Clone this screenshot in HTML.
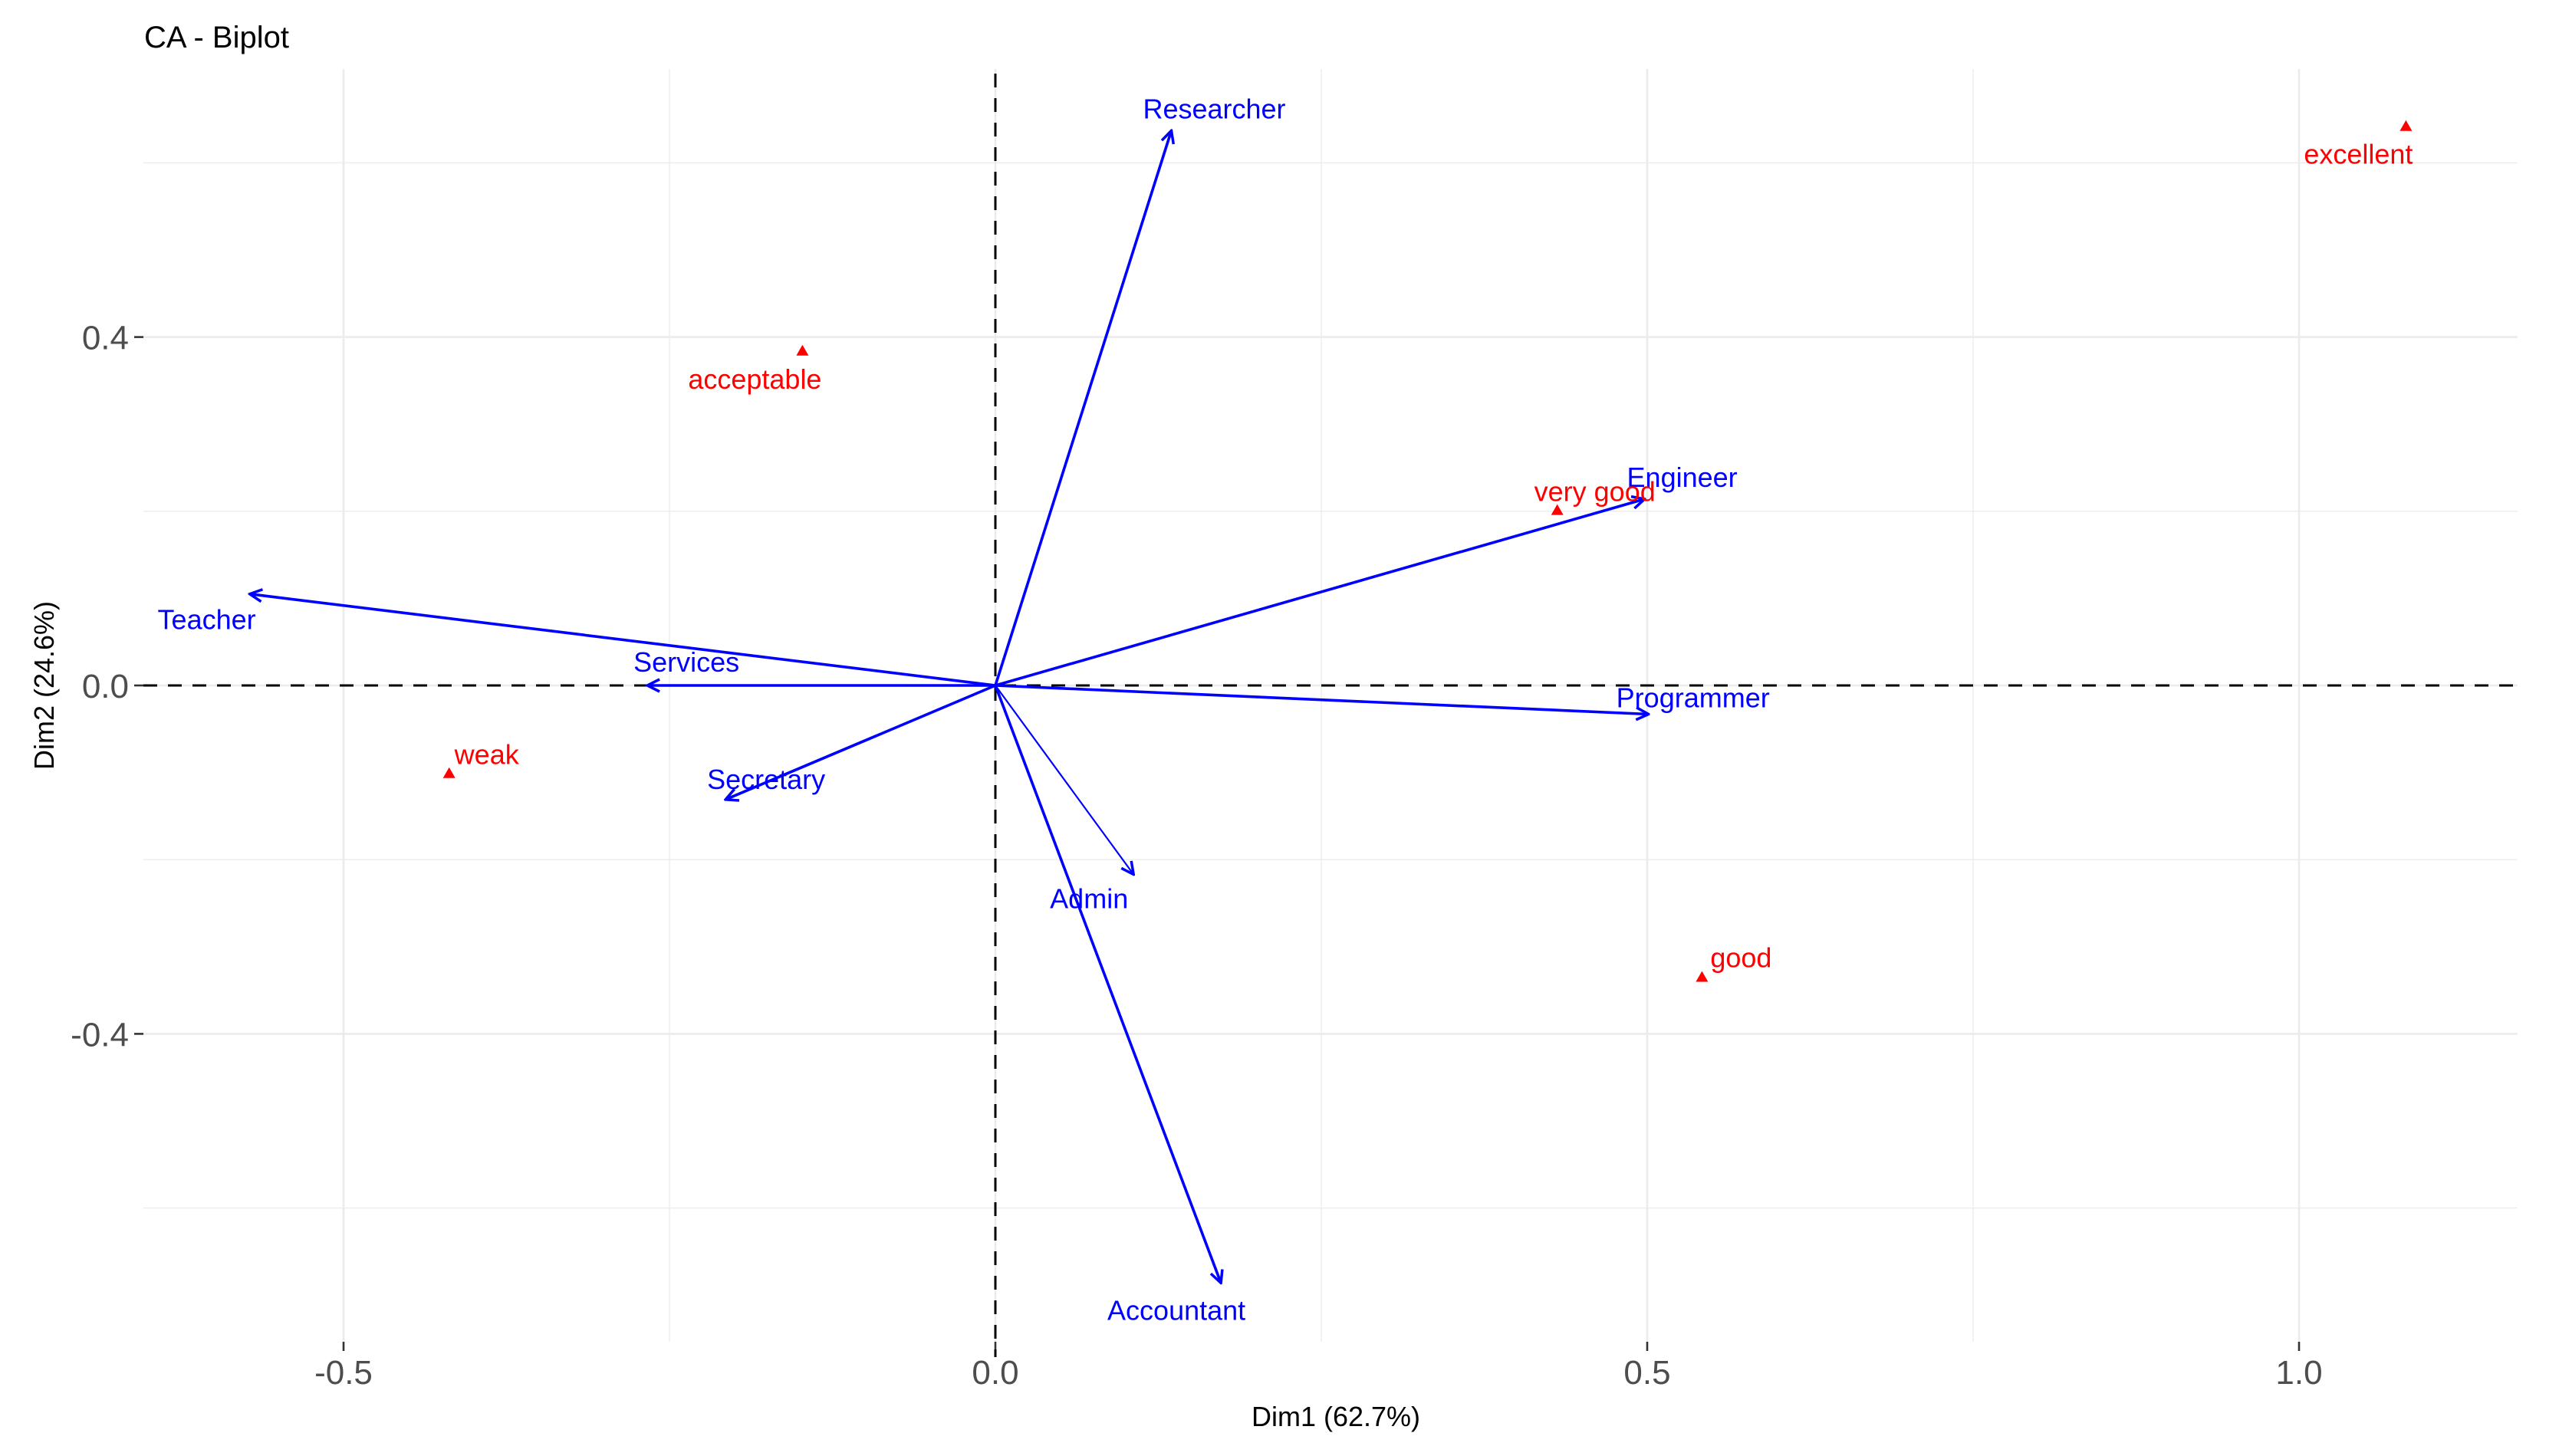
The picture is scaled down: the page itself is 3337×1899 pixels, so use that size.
<!DOCTYPE html>
<html><head><meta charset="utf-8"><style>
html,body{margin:0;padding:0;background:#fff}
svg{display:block;font-family:"Liberation Sans",Arial,sans-serif}
</style></head><body>
<svg id="chart" width="3337" height="1899" viewBox="0 0 3337 1899" xmlns="http://www.w3.org/2000/svg">
<defs>
<marker id="ah" viewBox="0 0 20 20" refX="18" refY="10" markerWidth="20" markerHeight="20" markerUnits="userSpaceOnUse" orient="auto">
<path d="M2,2 L18,10 L2,18" fill="none" stroke="#0000ff" stroke-width="3.5"/>
</marker>
</defs>
<text x="188" y="62" font-size="40" fill="#000">CA - Biplot</text>
<g id="grid"></g>
<g id="axes"></g>
<g id="marks"></g>
<text x="1742" y="1860" font-size="36" text-anchor="middle" fill="#000">Dim1 (62.7%)</text>
<text transform="translate(70,894) rotate(-90)" font-size="36" text-anchor="middle" fill="#000">Dim2 (24.6%)</text>
</svg>
<script>
const colNames = ["Researcher","Engineer","Programmer","Teacher","Services","Secretary","Admin","Accountant"];
const colX = [0.135,0.498,0.501,-0.572,-0.267,-0.207,0.106,0.173];
const colY = [0.637,0.214,-0.033,0.105,0.0,-0.131,-0.217,-0.686];
const rowNames = ["excellent","acceptable","very good","weak","good"];
const rowX = [1.082,-0.148,0.431,-0.419,0.542];
const rowY = [0.642,0.384,0.201,-0.101,-0.335];
const xTicks = [-0.5,0.0,0.5,1.0];
const xTickLabels = ["-0.5","0.0","0.5","1.0"];
const yTicks = [0.4,0.0,-0.4];
const yTickLabels = ["0.4","0.0","-0.4"];
const xMinor = [-0.25,0.25,0.75];
const yMinor = [0.6,0.2,-0.2,-0.6];

const X0=1298, XS=1700, Y0=894, YS=1136;
const PL=187, PR=3283, PT=90, PB=1750;
const sx = v => X0 + v*XS;
const sy = v => Y0 - v*YS;
const NS="http://www.w3.org/2000/svg";
function mk(tag, attrs, parent, txt){
  const e=document.createElementNS(NS,tag);
  for(const k in attrs) e.setAttribute(k,attrs[k]);
  if(txt!==undefined) e.textContent=txt;
  parent.appendChild(e); return e;
}
const grid=document.getElementById('grid'), axes=document.getElementById('axes'), marks=document.getElementById('marks');

xMinor.forEach(v=>{const l=mk('line',{x1:sx(v),x2:sx(v),y1:PT,y2:PB,stroke:'#ebebeb','stroke-width':1.3},grid);

});
yMinor.forEach(v=>{const l=mk('line',{x1:PL,x2:PR,y1:sy(v),y2:sy(v),stroke:'#ebebeb','stroke-width':1.3},grid);

});
xTicks.forEach((v,i)=>{
  const g=mk('line',{x1:sx(v),x2:sx(v),y1:PT,y2:PB,stroke:'#ebebeb','stroke-width':2.6},grid);
  
  
  const t=mk('line',{x1:sx(v),x2:sx(v),y1:PB,y2:PB+12,stroke:'#333','stroke-width':2.6},axes);
  
  
  const lb=mk('text',{x:sx(v),y:1805,'font-size':44,'text-anchor':'middle',fill:'#4d4d4d'},axes,xTickLabels[i]);
  
  
});
yTicks.forEach((v,i)=>{
  const g=mk('line',{x1:PL,x2:PR,y1:sy(v),y2:sy(v),stroke:'#ebebeb','stroke-width':2.6},grid);
  
  
  const t=mk('line',{x1:PL-12,x2:PL,y1:sy(v),y2:sy(v),stroke:'#333','stroke-width':2.6},axes);
  
  
  const lb=mk('text',{x:168,y:sy(v)+16,'font-size':44,'text-anchor':'end',fill:'#4d4d4d'},axes,yTickLabels[i]);
  
  
});
const h=mk('line',{x1:PL,x2:PR,y1:sy(0),y2:sy(0),stroke:'#000','stroke-width':3,'stroke-dasharray':'18,14'},axes);


const v0=mk('line',{x1:sx(0),x2:sx(0),y1:PT+6,y2:PB+20,stroke:'#000','stroke-width':3,'stroke-dasharray':'18,14'},axes);



const colOff=[[56,-16],[49,-16],[58,-9],[-56,46],[51,-18],[53,-14],[-58,44],[-58,48]];
colNames.forEach((n,i)=>{
  const a=mk('line',{x1:sx(0),y1:sy(0),x2:sx(colX[i]),y2:sy(colY[i]),stroke:'#0000ff','stroke-width':n==='Admin'?2.2:3.6,'marker-end':'url(#ah)'},marks);
  
  
  const t=mk('text',{x:sx(colX[i])+colOff[i][0],y:sy(colY[i])+colOff[i][1],'font-size':36,'text-anchor':'middle',fill:'#0000ff'},marks,n);
  
  
});
const rowOff=[[-62,49],[-62,49],[49,-12],[49,-12],[51,-13]];
rowNames.forEach((n,i)=>{
  const x=sx(rowX[i]), y=sy(rowY[i]);
  const p=mk('polygon',{points:`${x},${y-8} ${x-8},${y+6} ${x+8},${y+6}`,fill:'#ff0000'},marks);
  
  
  const t=mk('text',{x:x+rowOff[i][0],y:y+rowOff[i][1],'font-size':36,'text-anchor':'middle',fill:'#ff0000'},marks,n);
  
  
});
</script>
</body></html>
